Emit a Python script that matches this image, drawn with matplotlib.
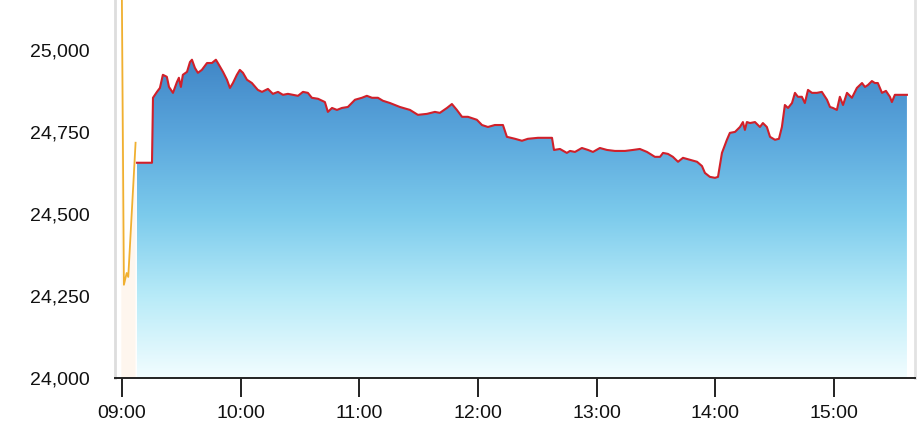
import numpy as np
import matplotlib.pyplot as plt
from matplotlib.colors import LinearSegmentedColormap
from matplotlib.ticker import FuncFormatter

plt.rcParams['font.family'] = ['Liberation Sans', 'DejaVu Sans']

# minutes after 09:00
pre_t = [-0.3, 1.0, 2.4, 3.2, 6.9]
pre_v = [25400, 24284, 24320, 24308, 24717]

t = [7.6, 15.2, 15.7, 16.7, 17.7, 19.2, 20.7, 22.7, 23.8, 25.8, 27.8, 28.8, 29.8,
     30.8, 32.9, 34.4, 35.4, 36.9, 38.4, 40.4, 43.0, 45.5, 47.5, 48.5, 51.1, 53.1,
     54.6, 56.1, 58.1, 59.6, 61.2, 63.2, 65.7, 68.7, 70.8, 73.8, 76.3, 78.9, 81.4,
     83.9, 86.4, 89.0, 91.5, 94.0, 96.0, 99.1, 102.6, 104.1, 106.2, 108.7, 111.2,
     114.2, 117.8, 121.3, 123.8, 126.4, 129.4, 131.9, 135.5, 140.5, 145.6, 149.6,
     154.2, 158.2, 160.7, 164.3, 166.8, 169.3, 171.9, 174.9, 179.4, 182.0, 185.0,
     188.5, 192.6, 194.6, 198.7, 202.2, 205.2, 210.3, 213.8, 217.4, 218.4, 221.4,
     224.9, 226.5, 229.0, 232.5, 235.6, 238.1, 241.6, 245.2, 249.2, 254.3, 258.3,
     261.8, 265.4, 269.4, 272.0, 273.5, 276.0, 278.5, 281.1, 283.6, 287.1, 290.7,
     293.2, 294.7, 297.2, 299.8, 301.3, 303.3, 305.8, 307.3, 309.9, 312.4, 313.9,
     314.9, 315.9, 317.5, 320.0, 322.5, 324.0, 326.0, 327.6, 330.1, 332.1, 333.6,
     335.1, 336.7, 338.7, 340.2, 341.7, 343.7, 345.2, 346.8, 348.8, 351.3, 353.8,
     356.4, 357.9, 359.4, 361.4, 362.9, 364.5, 366.5, 369.0, 371.5, 374.1, 375.6,
     377.1, 379.1, 380.6, 382.1, 384.2, 386.2, 388.2, 389.2, 390.7, 396.8]
v = [24656, 24656, 24854, 24863, 24872, 24884, 24924, 24918, 24887, 24869, 24902,
     24915, 24887, 24924, 24933, 24963, 24970, 24945, 24930, 24939, 24960, 24960,
     24970, 24960, 24933, 24909, 24884, 24899, 24924, 24939, 24930, 24909, 24899,
     24878, 24872, 24881, 24866, 24872, 24863, 24866, 24863, 24860, 24872, 24869,
     24854, 24851, 24841, 24811, 24823, 24817, 24823, 24826, 24848, 24854, 24860,
     24854, 24854, 24845, 24838, 24826, 24817, 24802, 24805, 24811, 24808, 24823,
     24835, 24817, 24796, 24796, 24787, 24771, 24765, 24771, 24771, 24735, 24729,
     24723, 24729, 24732, 24732, 24732, 24695, 24698, 24686, 24692, 24689, 24701,
     24695, 24689, 24701, 24695, 24692, 24692, 24695, 24698, 24689, 24674, 24674,
     24686, 24683, 24674, 24659, 24671, 24665, 24659, 24646, 24625, 24613, 24610,
     24613, 24686, 24726, 24747, 24750, 24765, 24780, 24756, 24780, 24777, 24780,
     24765, 24777, 24765, 24735, 24726, 24729, 24765, 24832, 24823, 24838, 24869,
     24857, 24857, 24838, 24878, 24869, 24869, 24872, 24848, 24826, 24823, 24817,
     24857, 24832, 24869, 24854, 24884, 24899, 24887, 24893, 24905, 24899, 24899,
     24869, 24875, 24857, 24841, 24863, 24863]

tick_pos = [0, 60, 120, 180, 240, 300, 360]
tick_lab = ['09:00', '10:00', '11:00', '12:00', '13:00', '14:00', '15:00']
y_ticks = [24000, 24250, 24500, 24750, 25000]

fig = plt.figure(figsize=(9.2, 4.48), dpi=100)
ax = fig.add_axes([0.125, 0.15625, 0.8696, 0.84375])
xmin, xmax = -3.5, 400.9
ymin, ymax = 24000, 25152
ax.set_xlim(xmin, xmax)
ax.set_ylim(ymin, ymax)

# faint orange area under the pre-open line
ax.fill_between(pre_t, pre_v, ymin, color='#fde7cf', alpha=0.35, lw=0)
ax.plot(pre_t, pre_v, color='#f0b030', lw=1.3)

# blue gradient area
cmap = LinearSegmentedColormap.from_list('g', ['#f2fdff', '#b8ebf8', '#7ccbec', '#5aa6dc', '#3f84c5'])
grad = np.linspace(0, 1, 256).reshape(-1, 1)
poly = ax.fill_between(t, v, ymin, color='none', lw=0)
img = ax.imshow(grad, cmap=cmap, aspect='auto', origin='lower',
                extent=[xmin, xmax, ymin, 24990], zorder=1)
img.set_clip_path(poly.get_paths()[0], transform=ax.transData)
ax.plot(t, v, color='#d0202a', lw=1.5, zorder=3)

ax.set_xticks(tick_pos)
ax.set_xticklabels(tick_lab)
ax.set_yticks(y_ticks)
ax.yaxis.set_major_formatter(FuncFormatter(lambda x, p: '{:,.0f}'.format(x)))
ax.tick_params(axis='y', length=0, pad=18, labelsize=14, colors='#111111')
ax.tick_params(axis='x', length=14, width=1.4, pad=5.5, labelsize=14,
               colors='#111111', color='#222222')

ax.spines['top'].set_visible(False)
ax.spines['left'].set_color('#dddddd')
ax.spines['left'].set_linewidth(2)
ax.spines['right'].set_color('#e2e2e2')
ax.spines['right'].set_linewidth(2)
ax.spines['bottom'].set_color('#222222')
ax.spines['bottom'].set_linewidth(1.4)

plt.savefig('out.png', dpi=100)
